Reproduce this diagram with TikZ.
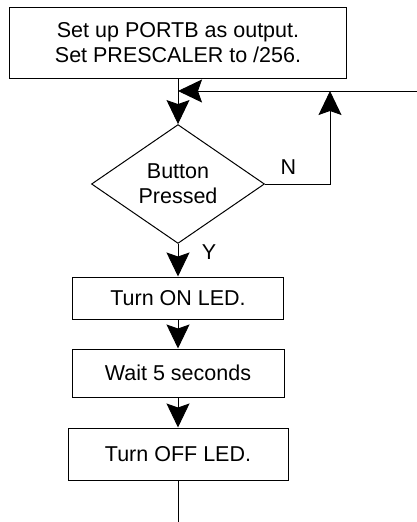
\documentclass[tikz,border=0pt]{standalone}
\usepackage{fontspec}
\setmainfont{Liberation Sans}
\usetikzlibrary{shapes.geometric,arrows.meta}

\begin{document}
\begin{tikzpicture}[x=1pt,y=-1pt,>={Stealth[length=24pt,width=23pt,inset=4pt]},
  every node/.style={font=\fontsize{21.5}{25}\selectfont},
  box/.style={draw,line width=1pt,inner sep=0pt,align=center},
  test/.style={draw,diamond,line width=1pt,inner sep=0pt,align=center,
    minimum width=173pt,minimum height=116pt}]
  \useasboundingbox (0,0) rectangle (417,522);
  % 初始化
  \node[box,minimum width=337pt,minimum height=71pt] (init) at (178,42.5)
    {Set up PORTB as output.\\Set PRESCALER to /256.};
  \coordinate (join) at (178,91);
  \coordinate (back) at (417,91);
  \coordinate (up) at (330,91);
  % 判断
  \node[test] (btn) at (178,184) {Button\\Pressed};
  \node (n) at (288.5,167) {N};
  \node (y) at (209,252) {Y};
  % 各步骤
  \node[box,minimum width=211pt,minimum height=42pt] (on) at (178,298) {Turn ON LED.};
  \node[box,minimum width=212pt,minimum height=48pt] (wait) at (178,373) {Wait 5 seconds};
  \node[box,minimum width=220pt,minimum height=52pt] (off) at (178,454) {Turn OFF LED.};
  \coordinate (tail) at (178,522);
  % 连线
  \draw[line width=0.9pt,->] (init) -- (btn);
  \draw[line width=0.9pt,->] (back) -- (join);
  \draw[line width=0.9pt,->] (btn.east) -| (up);
  \draw[line width=0.9pt,->] (btn) -- (on);
  \draw[line width=0.9pt,->] (on) -- (wait);
  \draw[line width=0.9pt,->] (wait) -- (off);
  \draw[line width=0.9pt] (off) -- (tail);
\end{tikzpicture}
\end{document}
